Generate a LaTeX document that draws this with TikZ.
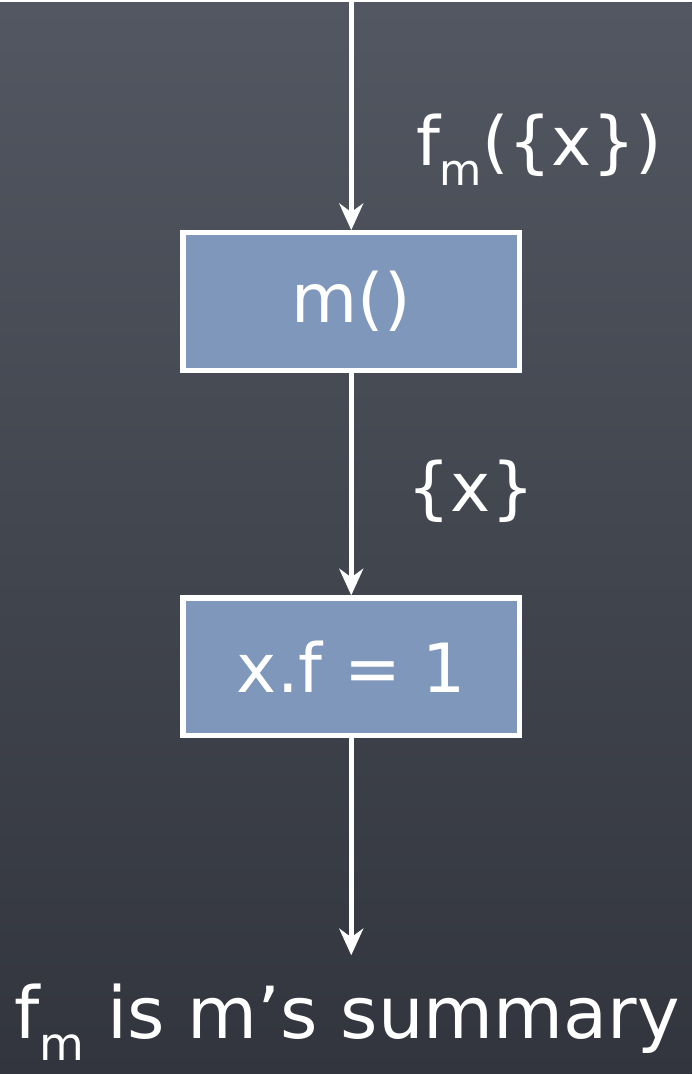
\documentclass[tikz,border=0pt]{standalone}
\usepackage{fontspec}
\setmainfont{DejaVu Sans}
\usetikzlibrary{arrows.meta,positioning}
\definecolor{bgtop}{HTML}{525761}
\definecolor{bgbot}{HTML}{32353D}
\definecolor{boxblue}{HTML}{7F97BB}
\newcommand\lowsub[1]{\raisebox{-0.3em}{\scalebox{0.64}{#1}}}

\begin{document}
\begin{tikzpicture}[x=0.75pt,y=-0.75pt,
    every node/.style={font=\fontsize{51}{60}\selectfont,text=white},
    stmt/.style={draw=white,line width=4pt,fill=boxblue,minimum width=253pt,minimum height=103.5pt,inner sep=0pt},
    flow/.style={white,line width=3.4pt,-{Stealth[length=20pt,width=18pt]}}]
    % chalkboard
    \fill[top color=bgtop,bottom color=bgbot] (0,0) rectangle (693,1074);
    % statements
    \node[stmt] (call) at (352,300) {m()};
    \node[stmt] (store) at (352,666) {x.f = 1};
    \coordinate (entry) at (352,0);
    \coordinate (exit) at (352,955);
    % edges
    \draw[flow] (entry) -- (call.north);
    \draw[flow] (call.south) -- (store.north);
    \draw[flow] (store.south) -- (exit);
    % labels
    \node (summ) at (540,148) {f\lowsub{m}(\{x\})};
    \node (pts) at (472,490) {\{x\}};
    \node[font=\fontsize{54}{60}\selectfont] (note) at (348,1022) {f\lowsub{m} is m’s summary};
\end{tikzpicture}
\end{document}
